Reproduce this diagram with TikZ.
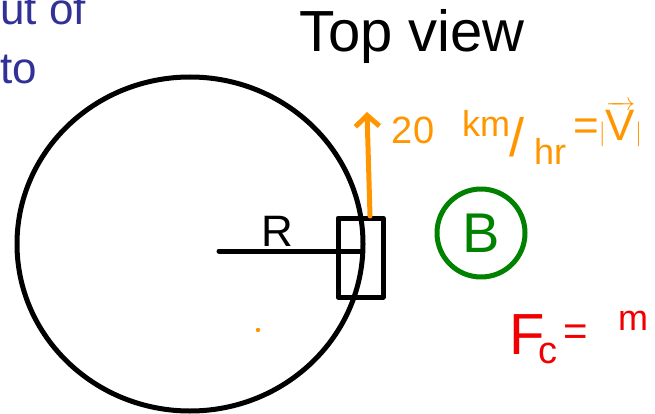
\documentclass[tikz,border=0pt]{standalone}
\usepackage{fontspec}
\setmainfont{Liberation Sans}
\usetikzlibrary{arrows.meta}

\definecolor{penblue}{RGB}{50,50,150}
\definecolor{penorange}{RGB}{255,150,0}
\definecolor{pengreen}{RGB}{0,130,0}
\definecolor{penred}{RGB}{240,0,0}

\begin{document}
\begin{tikzpicture}[x=1pt,y=-1pt,
    ink/.style={line width=5pt,line cap=round,line join=round},
    word/.style={inner sep=0pt,font=\fontsize{#1}{#1}\selectfont}]
\useasboundingbox (0,0) rectangle (655,414);

% top view of the track
\draw[ink] (190,244) ellipse [x radius=173,y radius=167];
\coordinate (centre) at (219,251);
\coordinate (rim) at (361,251);
\node[draw,ink,minimum width=45pt,minimum height=79pt,inner sep=0pt] (block) at (360.5,257.5) {};
\draw[ink] (centre) -- (rim);
\node[word=44] (radius) at (277,231) {R};
\fill[penorange] (258,330) circle (2.2pt);

% speed
\coordinate (tail) at (370,216);
\coordinate (head) at (367,112);
\draw[ink,penorange,-{Straight Barb[length=11pt,width=24pt]}] (tail) -- (head);
\begin{scope}[penorange]
\node[word=38] (num) at (413,130) {20};
\node[word=36] (km) at (486,123) {km};
\node[word=54] (slash) at (517,137) {/};
\node[word=36] (hr) at (550,151) {hr};
\node[word=44,anchor=west] (vel) at (573,124) {=$|\overrightarrow{\mbox{V}}|$};
\end{scope}

\node[word=58] (title) at (412,37) {Top view};

% margin notes
\node[word=44,penblue,anchor=base west] (note1) at (0,25) {ut of};
\node[word=44,penblue,anchor=base west] (note2) at (0,84) {to};

\node[draw=pengreen,text=pengreen,circle,ink,minimum size=88pt,inner sep=0pt,word=56] (bmark) at (481,233) {B};

\begin{scope}[penred]
\node[word=58] (force) at (527,335) {F};
\node[word=38] (sub) at (548,353) {c};
\node[word=42] (equal) at (576,335) {=};
\node[word=36] (mass) at (633,321) {m};
\end{scope}
\end{tikzpicture}
\end{document}
